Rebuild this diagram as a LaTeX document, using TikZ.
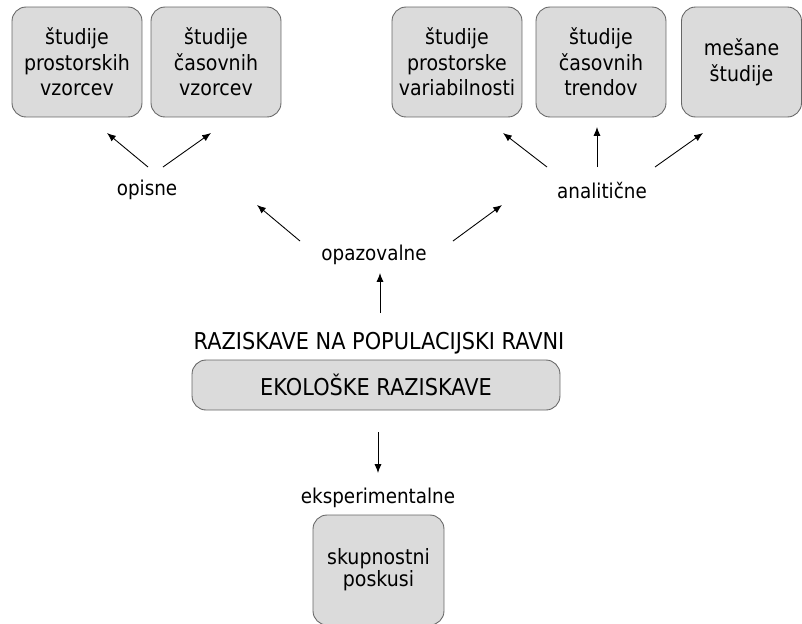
\documentclass[tikz,border=0pt]{standalone}
\usepackage{fontspec}
\setmainfont{DejaVu Sans}[FakeStretch=0.9]
\usetikzlibrary{arrows.meta}

\tikzset{
  studybox/.style={draw=black!60, fill=black!14, rounded corners=8pt, line width=0.5pt,
    minimum width=2.6cm, minimum height=2.2cm, align=center, inner sep=2pt,
    font=\fontsize{12}{14.6}\selectfont},
  label/.style={font=\fontsize{11.6}{14}\selectfont, inner sep=1pt},
  caps/.style={font=\fontsize{13.2}{15}\selectfont, inner sep=1pt},
  arr/.style={-{Latex[length=5pt,width=4pt]}, line width=0.5pt}
}

\begin{document}
\begin{tikzpicture}[x=0.02cm, y=-0.02cm]
  \useasboundingbox (0,0) rectangle (802,623);

  %%%%% boxes %%%%%
  \node[studybox] (prostorski) at (77,62) {študije\\prostorskih\\vzorcev};
  \node[studybox] (casovni) at (216,62) {študije\\časovnih\\vzorcev};
  \node[studybox] (variabilnost) at (457,62) {študije\\prostorske\\variabilnosti};
  \node[studybox] (trendi) at (601,62) {študije\\časovnih\\trendov};
  \node[studybox, minimum width=2.4cm] (mesane) at (741.5,62) {mešane\\študije};

  %%%%% labels %%%%%
  \node[label] (opisne) at (147,190) {opisne};
  \node[label] (analiticne) at (602,190) {analitične};
  \node[label] (opazovalne) at (374,255) {opazovalne};
  \node[caps] (populacija) at (379,343) {RAZISKAVE NA POPULACIJSKI RAVNI};
  \node[studybox, minimum width=7.36cm, minimum height=1cm, font=\fontsize{13.2}{15}\selectfont] (ekoloske) at (376,385) {EKOLOŠKE RAZISKAVE};
  \node[label] (eksperimentalne) at (378,498) {eksperimentalne};
  \node[studybox, minimum width=2.62cm, font=\fontsize{12}{10.6}\selectfont] (skupnostni) at (378.5,570) {skupnostni\\poskusi};

  %%%%% arrow ends %%%%%
  \coordinate (a1) at (148,167);  \coordinate (b1) at (107,133);
  \coordinate (a2) at (163,167);  \coordinate (b2) at (211,133);
  \coordinate (a3) at (547,167);  \coordinate (b3) at (503,133);
  \coordinate (a4) at (597,167);  \coordinate (b4) at (597,127);
  \coordinate (a5) at (655,167);  \coordinate (b5) at (703,133);
  \coordinate (a6) at (300,241);  \coordinate (b6) at (257,205);
  \coordinate (a7) at (453,241);  \coordinate (b7) at (502,205);
  \coordinate (a8) at (380,313);  \coordinate (b8) at (380,273);
  \coordinate (a9) at (378,432);  \coordinate (b9) at (378,473);

  \foreach \i in {1,...,9}
    \draw[arr] (a\i) -- (b\i);

\end{tikzpicture}
\end{document}
